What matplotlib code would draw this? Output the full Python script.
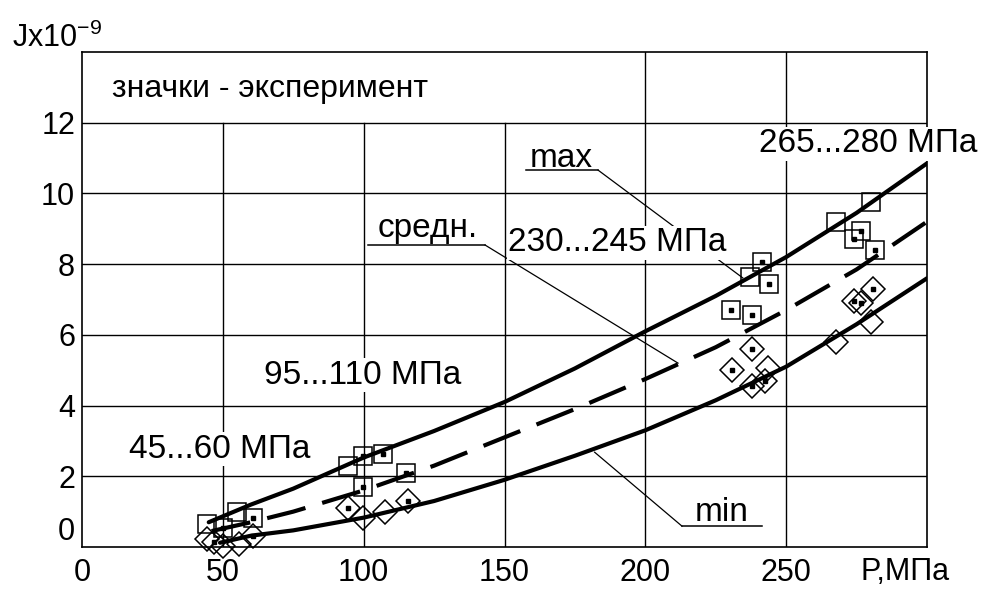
import matplotlib.pyplot as plt

plt.rcParams['font.family'] = ['Liberation Sans', 'DejaVu Sans']
plt.rcParams['mathtext.default'] = 'regular'

# расчётные кривые J(P)
p_max = [45, 60, 75, 100, 125, 150, 175, 200, 225, 250, 275, 300]
j_max = [0.7, 1.2, 1.65, 2.53, 3.28, 4.1, 5.05, 6.1, 7.1, 8.2, 9.45, 10.85]
p_mid = [46, 60, 75, 100, 125, 150, 175, 200, 225, 250, 275, 300]
j_mid = [0.45, 0.7, 1.0, 1.6, 2.3, 3.1, 3.9, 4.75, 5.65, 6.7, 7.85, 9.2]
p_min = [49, 60, 75, 100, 125, 150, 175, 200, 225, 250, 275, 300]
j_min = [0.12, 0.32, 0.47, 0.83, 1.3, 1.9, 2.58, 3.3, 4.15, 5.1, 6.3, 7.6]

# эксперимент: квадраты и ромбы, с точкой и без
sq_dot_p = [50, 60.6, 99.9, 107, 99.9, 115, 230.5, 238, 241.5, 243.9, 276.4, 274, 281.7]
sq_dot_j = [0.55, 0.82, 2.57, 2.63, 1.69, 2.1, 6.7, 6.57, 8.05, 7.45, 8.95, 8.7, 8.4]
sq_p = [44.5, 55.2, 94.5, 237.3, 280, 267.6]
sq_j = [0.65, 0.98, 2.3, 7.65, 9.77, 9.2]
dm_dot_p = [47, 60.6, 94.5, 115.7, 230.8, 238, 238, 242.5, 281, 274, 276.4]
dm_dot_j = [0.15, 0.31, 1.1, 1.31, 5.0, 5.6, 4.55, 4.7, 7.3, 6.95, 6.9]
dm_p = [44.5, 50, 55.8, 99.9, 107.6, 243.5, 280, 267.6]
dm_j = [0.22, 0.03, 0.08, 0.82, 0.98, 5.05, 6.35, 5.8]

x_ticks = [0, 50, 100, 150, 200, 250]
y_ticks = [0, 2, 4, 6, 8, 10, 12]

fig = plt.figure(figsize=(9.82, 5.9), dpi=100)
ax = fig.add_axes([0.0835, 0.0729, 0.8605, 0.8390])
ax.set_xlim(0, 300)
ax.set_ylim(0, 14)

for s in ax.spines.values():
    s.set_linewidth(1.2)

# сетка: над 12 только правые линии
for y in y_ticks[1:]:
    ax.axhline(y, color='k', lw=1.0, zorder=1)
for x in x_ticks[1:]:
    top = 1.0 if x >= 200 else 12 / 14
    ax.axvline(x, ymax=top, color='k', lw=1.0, zorder=1)

ax.set_xticks(x_ticks)
ax.set_yticks(y_ticks)
ax.tick_params(length=0, labelsize=22)
ax.tick_params(axis='x', pad=8)
ax.tick_params(axis='y', pad=5)
ax.get_yticklabels()[0].set_va('bottom')

ax.plot(p_max, j_max, color='k', lw=3.0, zorder=4, solid_capstyle='round')
ax.plot(p_mid, j_mid, color='k', lw=3.0, zorder=4, dashes=(9.5, 4.2))
ax.plot(p_min, j_min, color='k', lw=3.0, zorder=4, solid_capstyle='round')

mk = dict(linestyle='none', mfc='none', mec='k', mew=1.1, zorder=5, clip_on=False)
ax.plot(sq_p, sq_j, marker='s', ms=13, **mk)
ax.plot(sq_dot_p, sq_dot_j, marker='s', ms=13, **mk)
ax.plot(dm_p, dm_j, marker='D', ms=12.5, **mk)
ax.plot(dm_dot_p, dm_dot_j, marker='D', ms=12.5, **mk)
ax.plot(sq_dot_p + dm_dot_p, sq_dot_j + dm_dot_j, linestyle='none',
        marker='s', ms=3.2, color='k', zorder=6, clip_on=False)

box = dict(facecolor='white', edgecolor='none', pad=1)
fs = 24

ax.text(10.6, 12.94, 'значки - эксперимент', fontsize=23, ha='left', va='center',
        bbox=box, zorder=3)
ax.text(49, 2.77, '45...60 МПа', fontsize=fs, ha='center', va='center', bbox=box, zorder=3)
ax.text(99.5, 4.86, '95...110 МПа', fontsize=fs, ha='center', va='center', bbox=box, zorder=3)
ax.text(190, 8.6, '230...245 МПа', fontsize=fs, ha='center', va='center', bbox=box, zorder=3)
ax.text(279, 11.4, '265...280 МПа', fontsize=fs, ha='center', va='center', bbox=box,
        zorder=3, clip_on=False)

# подписи кривых с выносками
lead = dict(color='k', lw=0.9, zorder=2)
ax.text(159.0, 10.76, 'max', fontsize=fs, ha='left', va='baseline', zorder=3)
ax.plot([157.6, 183.2], [10.66, 10.66], color='k', lw=1.1, zorder=2)
ax.plot([183.2, 234.6], [10.66, 7.61], **lead)

ax.text(105.1, 8.77, 'средн.', fontsize=fs, ha='left', va='baseline', zorder=3)
ax.plot([101.5, 143.1], [8.54, 8.54], color='k', lw=1.1, zorder=2)
ax.plot([143.1, 211.6], [8.54, 5.2], **lead)

ax.text(217.6, 0.74, 'min', fontsize=fs, ha='left', va='baseline', zorder=3)
ax.plot([213, 241.4], [0.59, 0.59], color='k', lw=1.1, zorder=2)
ax.plot([213, 182], [0.59, 2.68], **lead)

fig.text(12 / 982, 1 - 38 / 590, 'Jx10$^{-9}$', fontsize=22, ha='left', va='center')
fig.text(905 / 982, 1 - 572 / 590, 'P,МПа', fontsize=22, ha='center', va='center')

fig.savefig('out.png', dpi=100, facecolor='white')
